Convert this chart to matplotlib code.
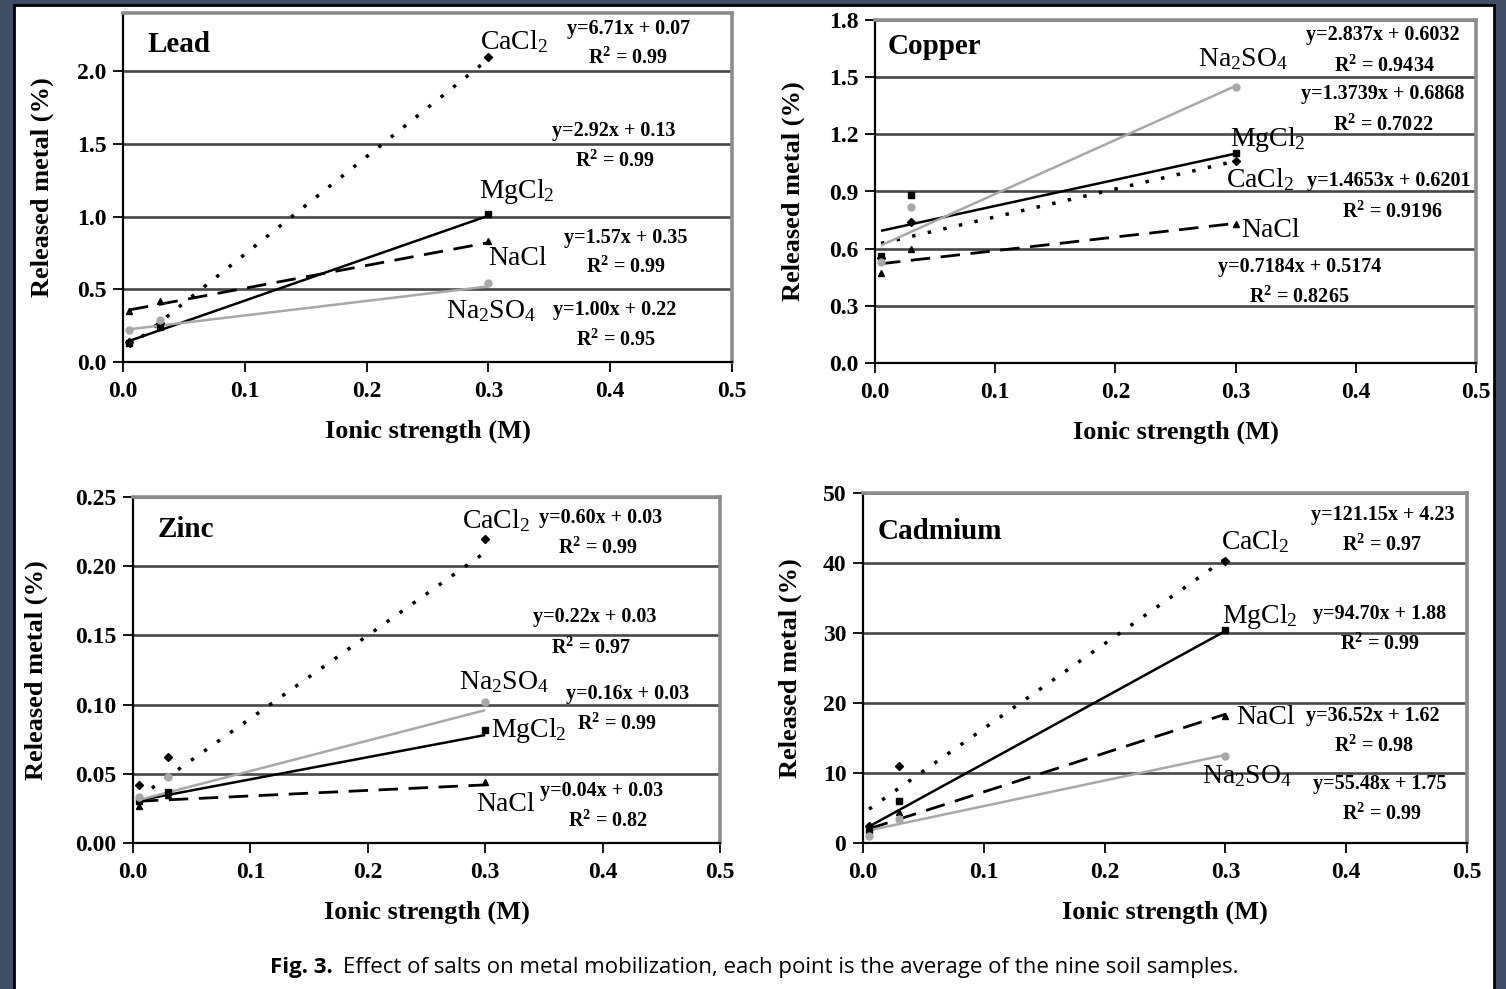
import matplotlib
matplotlib.use('Agg')
import matplotlib.pyplot as plt
from matplotlib.patches import Rectangle

plt.rcParams['font.family'] = ['Liberation Serif', 'DejaVu Serif']
plt.rcParams['mathtext.fontset'] = 'custom'
plt.rcParams['mathtext.rm'] = 'Liberation Serif'
plt.rcParams['mathtext.bf'] = 'Liberation Serif:bold'
plt.rcParams['mathtext.it'] = 'Liberation Serif:italic'

# ---------------- data ----------------
salts = ['CaCl2', 'MgCl2', 'NaCl', 'Na2SO4']
ionic = [0.005, 0.03, 0.3]          # measured ionic strengths (M)
fit_x = [0.005, 0.3]                # trendline extent

# Lead
lead_cacl2 = [0.14, 0.27, 2.10]
lead_mgcl2 = [0.13, 0.24, 1.02]
lead_nacl = [0.35, 0.42, 0.83]
lead_na2so4 = [0.22, 0.29, 0.54]
lead_slope = [6.71, 2.92, 1.57, 1.00]
lead_icpt = [0.07, 0.13, 0.35, 0.22]

# Copper
copper_cacl2 = [0.55, 0.74, 1.06]
copper_mgcl2 = [0.56, 0.88, 1.10]
copper_nacl = [0.47, 0.60, 0.73]
copper_na2so4 = [0.53, 0.82, 1.45]
copper_slope = [1.4653, 1.3739, 0.7184, 2.837]
copper_icpt = [0.6201, 0.6868, 0.5174, 0.6032]

# Zinc
zinc_cacl2 = [0.042, 0.062, 0.220]
zinc_mgcl2 = [0.030, 0.037, 0.082]
zinc_nacl = [0.027, 0.035, 0.044]
zinc_na2so4 = [0.033, 0.048, 0.102]
zinc_slope = [0.60, 0.16, 0.04, 0.22]
zinc_icpt = [0.03, 0.03, 0.03, 0.03]

# Cadmium
cadmium_cacl2 = [2.5, 11.0, 40.3]
cadmium_mgcl2 = [1.8, 6.0, 30.4]
cadmium_nacl = [1.5, 4.5, 18.2]
cadmium_na2so4 = [1.0, 3.5, 12.5]
cadmium_slope = [121.15, 94.70, 55.48, 36.52]
cadmium_icpt = [4.23, 1.88, 1.75, 1.62]

xticks = [0.0, 0.1, 0.2, 0.3, 0.4, 0.5]
xticklabels = ['0.0', '0.1', '0.2', '0.3', '0.4', '0.5']
lead_yticks = [0.0, 0.5, 1.0, 1.5, 2.0]
lead_yticklabels = ['0.0', '0.5', '1.0', '1.5', '2.0']
copper_yticks = [0.0, 0.3, 0.6, 0.9, 1.2, 1.5, 1.8]
copper_yticklabels = ['0.0', '0.3', '0.6', '0.9', '1.2', '1.5', '1.8']
zinc_yticks = [0.0, 0.05, 0.10, 0.15, 0.20, 0.25]
zinc_yticklabels = ['0.00', '0.05', '0.10', '0.15', '0.20', '0.25']
cadmium_yticks = [0, 10, 20, 30, 40, 50]
cadmium_yticklabels = ['0', '10', '20', '30', '40', '50']

salt_labels = {'CaCl2': r'CaCl$_2$', 'MgCl2': r'MgCl$_2$', 'NaCl': 'NaCl',
               'Na2SO4': r'Na$_2$SO$_4$'}

lead_eq = ['y=6.71x + 0.07', 'y=2.92x + 0.13', 'y=1.57x + 0.35', 'y=1.00x + 0.22']
lead_r2 = ['0.99', '0.99', '0.99', '0.95']
copper_eq = ['y=2.837x + 0.6032', 'y=1.3739x + 0.6868', 'y=1.4653x + 0.6201', 'y=0.7184x + 0.5174']
copper_r2 = ['0.9434', '0.7022', '0.9196', '0.8265']
zinc_eq = ['y=0.60x + 0.03', 'y=0.22x + 0.03', 'y=0.16x + 0.03', 'y=0.04x + 0.03']
zinc_r2 = ['0.99', '0.97', '0.99', '0.82']
cadmium_eq = ['y=121.15x + 4.23', 'y=94.70x + 1.88', 'y=36.52x + 1.62', 'y=55.48x + 1.75']
cadmium_r2 = ['0.97', '0.99', '0.98', '0.99']

# ---------------- styles ----------------
styles = {
    'CaCl2': dict(color='black', ls=(0, (1, 3.6)), lw=2.5, marker='D', ms=3.6, mc='black'),
    'MgCl2': dict(color='black', ls='-', lw=1.8, marker='s', ms=5.0, mc='black'),
    'NaCl': dict(color='black', ls=(0, (7, 3.8)), lw=2.0, marker='^', ms=5.0, mc='black'),
    'Na2SO4': dict(color='#a8a8a8', ls='-', lw=1.8, marker='o', ms=5.0, mc='#a8a8a8'),
}

W, H = 1506, 989
fig = plt.figure(figsize=(W / 100, H / 100), dpi=100)
fig.patch.set_facecolor('#3f4e66')
fig.add_artist(Rectangle((14 / W, -0.01), (1494 - 14) / W, 1.01 - 5 / H,
                         transform=fig.transFigure, facecolor='white',
                         edgecolor='black', lw=2.0, zorder=-10))

TICK_FS = 17
AX_FS = 19
TITLE_FS = 21
SALT_FS = 20
EQ_FS = 14.5


def make_axes(x0, x1, ytop, ybot):
    return fig.add_axes([x0 / W, 1 - ybot / H, (x1 - x0) / W, (ybot - ytop) / H])


def panel(ax, ylim, yticks, yticklabels, series, slopes, icpts, title, title_xy,
          label_pos, eqs, r2s, eq_pos, r2_pos, ylab_x):
    ax.set_xlim(0, 0.5)
    ax.set_ylim(*ylim)
    for name, vals, s, b in zip(salts, series, slopes, icpts):
        st = styles[name]
        ax.plot(fit_x, [s * x + b for x in fit_x], color=st['color'],
                ls=st['ls'], lw=st['lw'], zorder=3, solid_capstyle='butt')
        ax.plot(ionic, vals, ls='none', marker=st['marker'], ms=st['ms'],
                color=st['mc'], zorder=4)
    ax.set_xticks(xticks)
    ax.set_xticklabels(xticklabels, fontsize=TICK_FS, fontweight='bold')
    ax.set_yticks(yticks)
    ax.set_yticklabels(yticklabels, fontsize=TICK_FS, fontweight='bold')
    ax.tick_params(axis='both', direction='out', length=7, width=1.3, color='black')
    ax.tick_params(axis='x', pad=7)
    ax.tick_params(axis='y', pad=5)
    ax.yaxis.grid(True, color='#474747', lw=1.9)
    ax.set_axisbelow(True)
    for sp in ['top', 'right']:
        ax.spines[sp].set_color('#8c8c8c')
        ax.spines[sp].set_linewidth(2.6)
    for sp in ['left', 'bottom']:
        ax.spines[sp].set_color('black')
        ax.spines[sp].set_linewidth(1.6)
    ax.set_xlabel('Ionic strength (M)', fontsize=AX_FS, fontweight='bold', labelpad=12)
    ax.set_ylabel('Released metal (%)', fontsize=AX_FS, fontweight='bold')
    ax.yaxis.set_label_coords(ylab_x, 0.5)
    ax.text(title_xy[0], title_xy[1], title, fontsize=TITLE_FS, fontweight='bold',
            ha='left', va='center', transform=ax.transAxes)
    for name, (lx, ly) in zip(salts, label_pos):
        ax.text(lx, ly, salt_labels[name], fontsize=SALT_FS, ha='center',
                va='center', zorder=5)
    for e, r, (ex, ey), (rx, ry) in zip(eqs, r2s, eq_pos, r2_pos):
        ax.text(ex, ey, e, fontsize=EQ_FS, fontweight='bold', ha='center',
                va='center', zorder=5)
        ax.text(rx, ry, r'R$^\mathbf{2}$ = ' + r, fontsize=EQ_FS,
                fontweight='bold', ha='center', va='center', zorder=5)


# Lead
ax1 = make_axes(123, 732, 13, 362)
panel(ax1, (0, 2.4), lead_yticks, lead_yticklabels,
      [lead_cacl2, lead_mgcl2, lead_nacl, lead_na2so4], lead_slope, lead_icpt,
      'Lead', (0.041, 0.91),
      [(0.321, 2.20), (0.323, 1.175), (0.324, 0.715), (0.302, 0.35)],
      lead_eq, lead_r2,
      [(0.415, 2.29), (0.403, 1.59), (0.413, 0.85), (0.404, 0.357)],
      [(0.415, 2.09), (0.404, 1.38), (0.413, 0.65), (0.405, 0.15)],
      -0.113)

# Copper
ax2 = make_axes(875, 1476, 20, 363)
panel(ax2, (0, 1.8), copper_yticks, copper_yticklabels,
      [copper_cacl2, copper_mgcl2, copper_nacl, copper_na2so4], copper_slope, copper_icpt,
      'Copper', (0.0216, 0.924),
      [(0.320, 0.96), (0.327, 1.175), (0.329, 0.693), (0.306, 1.595)],
      copper_eq, copper_r2,
      [(0.4226, 1.721), (0.4226, 1.411), (0.427, 0.955), (0.353, 0.504)],
      [(0.424, 1.558), (0.423, 1.249), (0.430, 0.792), (0.353, 0.346)],
      -0.116)

# Zinc
ax3 = make_axes(133, 720, 497, 843)
panel(ax3, (0, 0.25), zinc_yticks, zinc_yticklabels,
      [zinc_cacl2, zinc_mgcl2, zinc_nacl, zinc_na2so4], zinc_slope, zinc_icpt,
      'Zinc', (0.0426, 0.905),
      [(0.309, 0.2327), (0.337, 0.081), (0.317, 0.0275), (0.316, 0.1163)],
      zinc_eq, zinc_r2,
      [(0.398, 0.235), (0.393, 0.163), (0.421, 0.108), (0.399, 0.0376)],
      [(0.396, 0.213), (0.390, 0.141), (0.412, 0.086), (0.405, 0.016)],
      -0.145)

# Cadmium
ax4 = make_axes(863, 1467, 493, 843)
panel(ax4, (0, 50), cadmium_yticks, cadmium_yticklabels,
      [cadmium_cacl2, cadmium_mgcl2, cadmium_nacl, cadmium_na2so4], cadmium_slope, cadmium_icpt,
      'Cadmium', (0.025, 0.891),
      [(0.3245, 43.1), (0.3286, 32.3), (0.333, 17.9), (0.318, 9.6)],
      cadmium_eq, cadmium_r2,
      [(0.4305, 46.9), (0.428, 32.7), (0.422, 18.1), (0.428, 8.4)],
      [(0.430, 42.6), (0.428, 28.4), (0.423, 13.9), (0.430, 4.1)],
      -0.101)

# caption
fig.text(333 / W, 1 - 967 / H, 'Fig. 3.', fontsize=16, fontweight='bold',
         family=['Open Sans', 'DejaVu Sans'], ha='right', va='center')
fig.text(343 / W, 1 - 967 / H,
         'Effect of salts on metal mobilization, each point is the average of the nine soil samples.',
         fontsize=16, family=['Open Sans', 'DejaVu Sans'], ha='left', va='center')

fig.savefig('out.png', dpi=100, facecolor=fig.get_facecolor())
